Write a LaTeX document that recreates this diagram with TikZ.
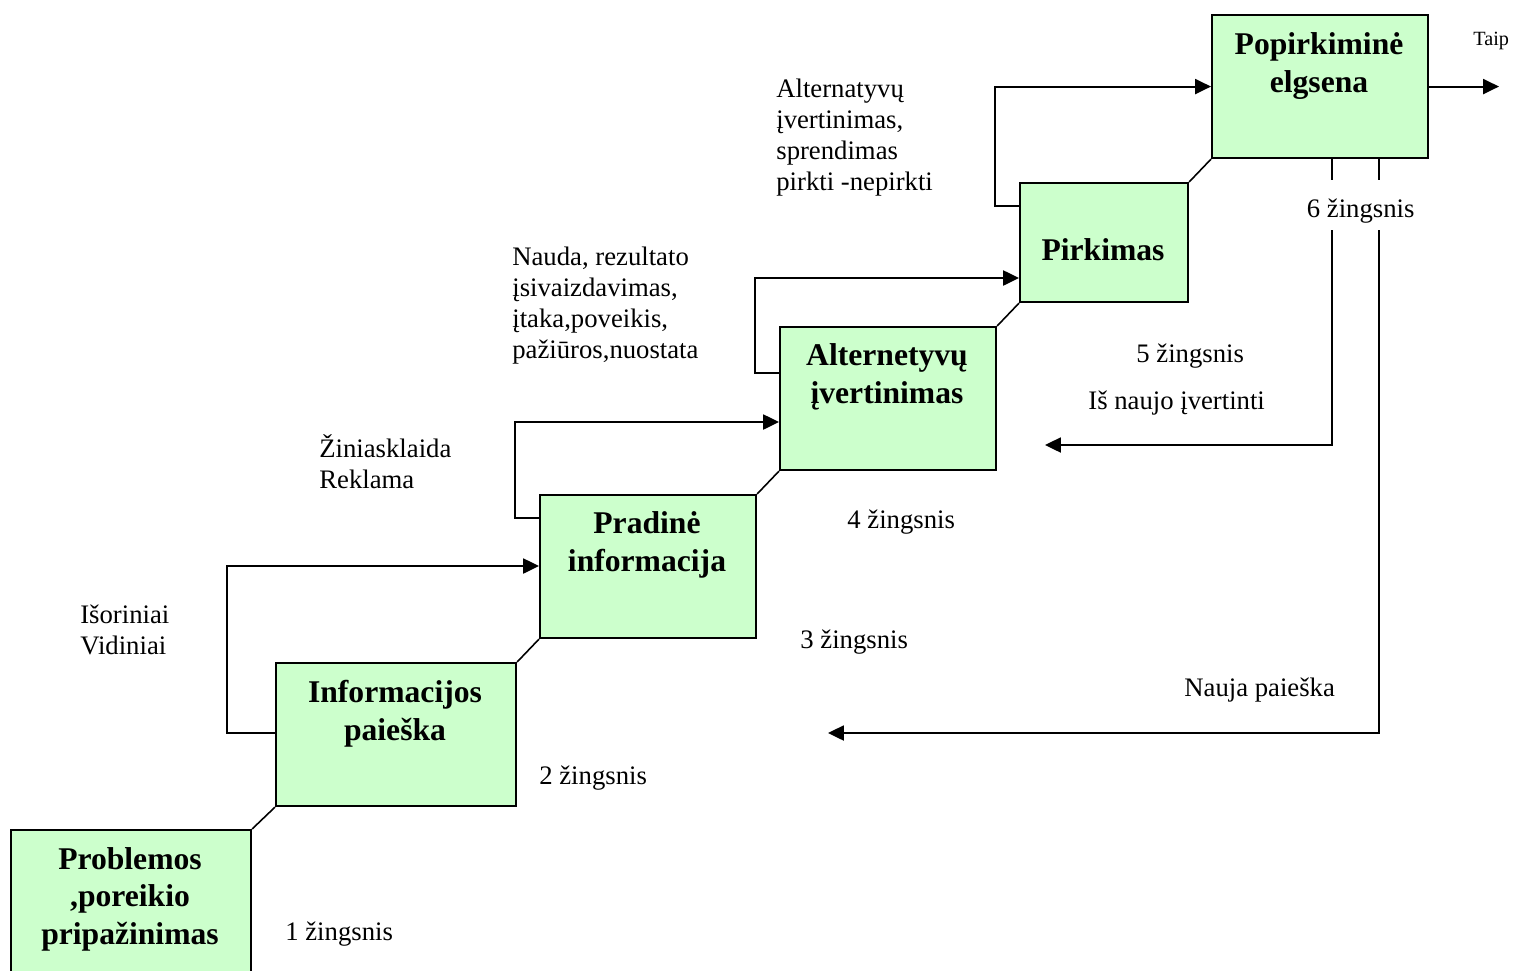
\documentclass[tikz,border=0pt]{standalone}
\usepackage{fontspec}
\setmainfont{Liberation Serif}
\usetikzlibrary{arrows.meta}
\definecolor{stagegreen}{HTML}{CCFFCC}
\begin{document}
\begin{tikzpicture}[x=0.02cm,y=-0.02cm,
  stage/.style 2 args={draw=black,line width=1.2pt,fill=stagegreen,inner sep=0,
    anchor=north west,minimum width=#1*0.02cm,minimum height=#2*0.02cm},
  stagetext/.style={font=\bfseries\fontsize{18}{21.3}\selectfont,align=center,inner sep=0,anchor=base},
  note/.style={font=\fontsize{15.2}{17.6}\selectfont,align=left,inner sep=0,anchor=base west},
  flow/.style={line width=1.2pt,-{Triangle[length=9pt,width=8.5pt]}},
  link/.style={line width=0.9pt}]
\useasboundingbox (0,0) rectangle (1513,970);

% stages of the buying process
\node[stage={240}{170}] (b1) at (10,829) {};
\node[stage={240}{143}] (b2) at (275,662) {};
\node[stage={216}{143}] (b3) at (539,494) {};
\node[stage={216}{143}] (b4) at (779,326) {};
\node[stage={168}{119}] (b5) at (1019,182) {};
\node[stage={216}{143}] (b6) at (1211,14) {};

% stage titles, placed by the baseline of their last line
\node[stagetext] (t1) at (130,944) {Problemos\\,poreikio\\pripažinimas};
\node[stagetext] (t2) at (395,740) {Informacijos\\paieška};
\node[stagetext] (t3) at (647,571) {Pradinė\\informacija};
\node[stagetext] (t4) at (887,403) {Alternetyvų\\įvertinimas};
\node[stagetext] (t5) at (1103,260) {Pirkimas};
\node[stagetext] (t6) at (1319,92) {Popirkiminė\\elgsena};

% stair links between consecutive stages
\draw[link] (b1.north east) -- (b2.south west);
\draw[link] (b2.north east) -- (b3.south west);
\draw[link] (b3.north east) -- (b4.south west);
\draw[link] (b4.north east) -- (b5.south west);
\draw[link] (b5.north east) -- (b6.south west);

% forward loops
\draw[flow] (b2.west |- 0,733) -- ++(-48,0) |- (b3.west |- 0,566);
\draw[flow] (b3.west |- 0,518) -- ++(-24,0) |- (b4.west |- 0,422);
\draw[flow] (b4.west |- 0,373) -- ++(-24,0) |- (b5.west |- 0,278);
\draw[flow] (b5.west |- 0,206) -- ++(-24,0) |- (b6.west);

% outcome and feedback
\coordinate (yes) at (1499,86);
\coordinate (reeval) at (1045,445);
\coordinate (newsearch) at (828,733);
\draw[flow] (b6.east) -- (b6.east -| yes);
\draw[flow] (b6.south -| 1332,0) |- (reeval);
\draw[flow] (b6.south -| 1379,0) |- (newsearch);

\node[note,font=\fontsize{11.5}{13}\selectfont] (taip) at (1473,45) {Taip};
\node[note,fill=white,text height=0.74cm,text depth=0.26cm,inner xsep=2pt] (s6) at (1303,217) {6 žingsnis};

% annotations, placed by the baseline of their last line
\node[note] (n5) at (776,190) {Alternatyvų\\įvertinimas,\\sprendimas\\pirkti -nepirkti};
\node[note] (n4) at (512,358) {Nauda, rezultato\\įsivaizdavimas,\\įtaka,poveikis,\\pažiūros,nuostata};
\node[note] (n3) at (319,488) {Žiniasklaida\\Reklama};
\node[note] (n2) at (80,654) {Išoriniai\\Vidiniai};

\node[note] (s1) at (285,940) {1 žingsnis};
\node[note] (s2) at (539,784) {2 žingsnis};
\node[note] (s3) at (800,648) {3 žingsnis};
\node[note] (s4) at (847,528) {4 žingsnis};
\node[note] (s5) at (1136,362) {5 žingsnis};
\node[note] (r1) at (1088,409) {Iš naujo įvertinti};
\node[note] (r2) at (1184,696) {Nauja paieška};
\end{tikzpicture}
\end{document}
